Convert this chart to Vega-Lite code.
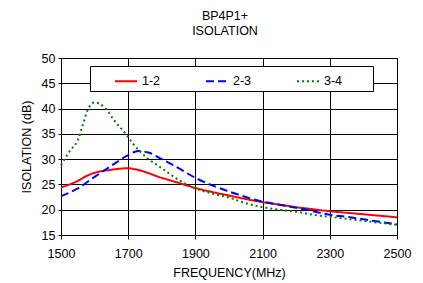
{
  "$schema": "https://vega.github.io/schema/vega-lite/v6.json",
  "autosize": "none",
  "width": 336,
  "height": 177,
  "padding": {"left": 61, "top": 58, "right": 26, "bottom": 48},
  "background": "white",
  "config": {
    "font": "Liberation Sans",
    "view": {"stroke": "black", "strokeWidth": 1},
    "axis": {
      "gridColor": "black", "gridOpacity": 1, "gridWidth": 1,
      "domain": false, "tickColor": "black", "tickSize": 4, "labelFlush": false,
      "labelFont": "Liberation Sans", "labelFontSize": 12.5, "labelColor": "black",
      "titleFont": "Liberation Sans", "titleFontSize": 12.5, "titleFontWeight": "normal", "titleColor": "black"
    },
    "legend": {
      "labelFont": "Liberation Sans", "labelFontSize": 12.5, "labelColor": "black"
    }
  },
  "title": {
    "text": ["BP4P1+", "ISOLATION"],
    "font": "Liberation Sans", "fontSize": 12.5, "fontWeight": "normal", "color": "black",
    "lineHeight": 15, "anchor": "middle", "offset": 15, "dx": -4
  },
  "data": {
    "values": [
      {"f": 1500, "v": 24.4, "s": "1-2"}, {"f": 1550, "v": 25.7, "s": "1-2"}, {"f": 1580, "v": 26.8, "s": "1-2"},
      {"f": 1600, "v": 27.3, "s": "1-2"}, {"f": 1650, "v": 27.9, "s": "1-2"}, {"f": 1700, "v": 28.2, "s": "1-2"},
      {"f": 1720, "v": 28.0, "s": "1-2"}, {"f": 1800, "v": 26.3, "s": "1-2"}, {"f": 1850, "v": 25.3, "s": "1-2"},
      {"f": 1900, "v": 24.3, "s": "1-2"}, {"f": 1950, "v": 23.5, "s": "1-2"}, {"f": 2000, "v": 22.8, "s": "1-2"},
      {"f": 2050, "v": 22.1, "s": "1-2"}, {"f": 2100, "v": 21.5, "s": "1-2"}, {"f": 2150, "v": 21.0, "s": "1-2"},
      {"f": 2200, "v": 20.5, "s": "1-2"}, {"f": 2250, "v": 20.1, "s": "1-2"}, {"f": 2300, "v": 19.7, "s": "1-2"},
      {"f": 2350, "v": 19.4, "s": "1-2"}, {"f": 2400, "v": 19.1, "s": "1-2"}, {"f": 2450, "v": 18.8, "s": "1-2"},
      {"f": 2500, "v": 18.5, "s": "1-2"},
      {"f": 1500, "v": 22.7, "s": "2-3"}, {"f": 1550, "v": 24.2, "s": "2-3"}, {"f": 1600, "v": 26.5, "s": "2-3"},
      {"f": 1650, "v": 28.7, "s": "2-3"}, {"f": 1700, "v": 30.8, "s": "2-3"}, {"f": 1730, "v": 31.6, "s": "2-3"},
      {"f": 1760, "v": 31.3, "s": "2-3"}, {"f": 1800, "v": 30.0, "s": "2-3"}, {"f": 1850, "v": 28.2, "s": "2-3"},
      {"f": 1900, "v": 26.3, "s": "2-3"}, {"f": 1950, "v": 24.8, "s": "2-3"}, {"f": 2000, "v": 23.6, "s": "2-3"},
      {"f": 2050, "v": 22.5, "s": "2-3"}, {"f": 2100, "v": 21.6, "s": "2-3"}, {"f": 2150, "v": 21.0, "s": "2-3"},
      {"f": 2200, "v": 20.4, "s": "2-3"}, {"f": 2250, "v": 19.7, "s": "2-3"}, {"f": 2300, "v": 19.0, "s": "2-3"},
      {"f": 2350, "v": 18.6, "s": "2-3"}, {"f": 2400, "v": 18.1, "s": "2-3"}, {"f": 2450, "v": 17.6, "s": "2-3"},
      {"f": 2500, "v": 17.1, "s": "2-3"},
      {"f": 1500, "v": 28.8, "s": "3-4"}, {"f": 1525, "v": 31.5, "s": "3-4"}, {"f": 1550, "v": 33.8, "s": "3-4"},
      {"f": 1565, "v": 36.8, "s": "3-4"}, {"f": 1580, "v": 39.8, "s": "3-4"}, {"f": 1600, "v": 41.2, "s": "3-4"},
      {"f": 1630, "v": 40.2, "s": "3-4"}, {"f": 1660, "v": 37.5, "s": "3-4"}, {"f": 1690, "v": 35.2, "s": "3-4"},
      {"f": 1715, "v": 33.0, "s": "3-4"}, {"f": 1750, "v": 30.6, "s": "3-4"}, {"f": 1800, "v": 28.2, "s": "3-4"},
      {"f": 1850, "v": 25.9, "s": "3-4"}, {"f": 1900, "v": 24.2, "s": "3-4"}, {"f": 1950, "v": 23.2, "s": "3-4"},
      {"f": 2000, "v": 22.4, "s": "3-4"}, {"f": 2050, "v": 21.3, "s": "3-4"}, {"f": 2100, "v": 20.5, "s": "3-4"},
      {"f": 2150, "v": 20.0, "s": "3-4"}, {"f": 2200, "v": 19.6, "s": "3-4"}, {"f": 2250, "v": 19.0, "s": "3-4"},
      {"f": 2300, "v": 18.6, "s": "3-4"}, {"f": 2350, "v": 18.2, "s": "3-4"}, {"f": 2400, "v": 17.8, "s": "3-4"},
      {"f": 2450, "v": 17.4, "s": "3-4"}, {"f": 2500, "v": 17.0, "s": "3-4"}
    ]
  },
  "mark": {"type": "line", "interpolate": "monotone", "strokeWidth": 2},
  "encoding": {
    "x": {
      "field": "f", "type": "quantitative",
      "scale": {"domain": [1500, 2500], "nice": false, "zero": false},
      "axis": {"values": [1500, 1700, 1900, 2100, 2300, 2500], "title": "FREQUENCY(MHz)", "labelPadding": 8, "titlePadding": 7, "format": "d"}
    },
    "y": {
      "field": "v", "type": "quantitative",
      "scale": {"domain": [15, 50], "nice": false, "zero": false},
      "axis": {"values": [15, 20, 25, 30, 35, 40, 45, 50], "title": "ISOLATION (dB)", "labelPadding": 3, "tickSize": 3, "titlePadding": 8}
    },
    "color": {
      "field": "s", "type": "nominal",
      "scale": {"domain": ["1-2", "2-3", "3-4"], "range": ["#FF0000", "#0000FF", "#008000"]},
      "legend": {
        "title": " ", "titleOrient": "right", "titlePadding": 28, "titleFontSize": 6,
        "orient": "none", "legendX": 29, "legendY": 8, "direction": "horizontal",
        "fillColor": "white", "strokeColor": "black", "padding": 3,
        "symbolType": "stroke", "symbolSize": 484, "symbolStrokeWidth": 2,
        "labelOffset": 4, "columnPadding": 23, "symbolOffset": 21
      }
    },
    "strokeDash": {
      "field": "s", "type": "nominal",
      "scale": {"domain": ["1-2", "2-3", "3-4"], "range": [[1, 0], [8, 4], [2, 3]]},
      "legend": {
        "title": " ", "titleOrient": "right", "titlePadding": 28, "titleFontSize": 6,
        "orient": "none", "legendX": 29, "legendY": 8, "direction": "horizontal",
        "fillColor": "white", "strokeColor": "black", "padding": 3,
        "symbolType": "stroke", "symbolSize": 484, "symbolStrokeWidth": 2,
        "labelOffset": 4, "columnPadding": 23, "symbolOffset": 21
      }
    }
  }
}
